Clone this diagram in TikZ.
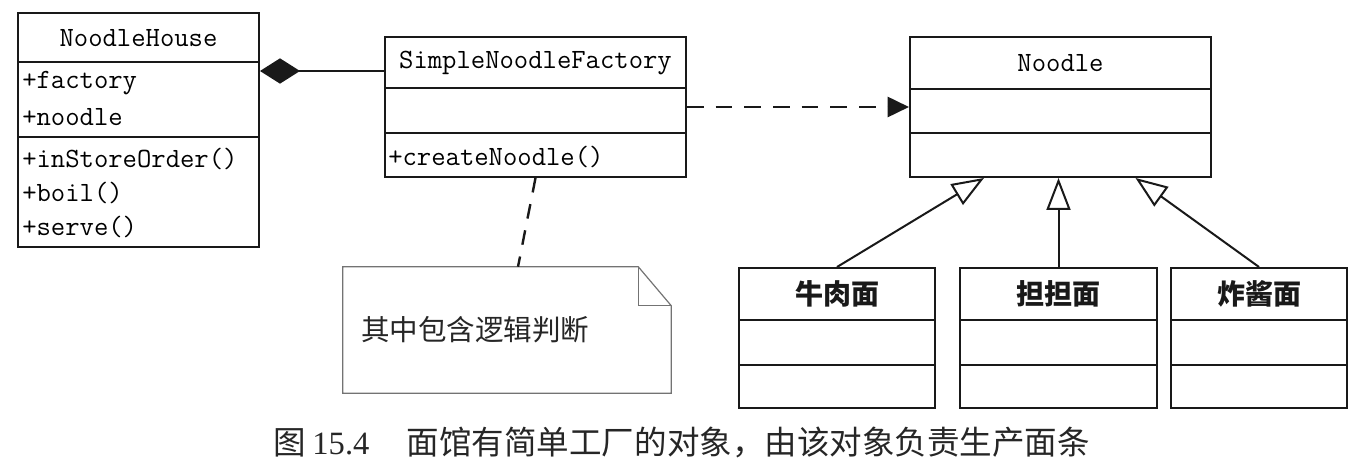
\documentclass[tikz,border=0pt]{standalone}
\usepackage{fontspec}
\newfontfamily\cjk{Noto Sans CJK SC}
\newfontfamily\capnum{Liberation Serif}
\usepackage{tikz}
\usetikzlibrary{positioning}
\usetikzlibrary{arrows.meta}

\tikzset{
  classbox/.style args={#1 by #2}{draw=black!90, line width=1.5pt, inner sep=0pt,
    minimum width=#1*0.75pt, minimum height=#2*0.75pt},
  divider/.style={draw=black!90, line width=1.5pt},
  mono/.style={inner sep=0pt, text=black, font=\fontsize{20.9}{25}\selectfont\ttfamily},
  cjkname/.style={inner sep=0pt, text=black!90, font=\cjk\bfseries\fontsize{21}{25}\selectfont},
  composition/.style={draw=black!90, line width=1.5pt, {Diamond[length=30pt, width=19pt]}-},
  depend/.style={draw=black!90, line width=2pt, dash pattern={on 12.5pt off 9pt}, -{Triangle[length=16pt, width=15pt]}},
  inherit/.style={draw=black!90, line width=1.5pt, -{Triangle[open, length=24pt, width=18pt]}},
  notelink/.style={draw=black!90, line width=1.8pt, dash pattern={on 11pt off 9pt}},
  notebox/.style={draw=black!55, line width=0.9pt}
}

\begin{document}
\begin{tikzpicture}[x=0.75pt,y=0.75pt,yscale=-1,xscale=1]
            \useasboundingbox (0,0) rectangle (1370,463);

            %Shape: Class NoodleHouse
            \node[classbox=241 by 234] (house) at (138.5,130) {};
            \draw[divider] (house.west |- 0,62) -- (house.east |- 0,62);
            \draw[divider] (house.west |- 0,137) -- (house.east |- 0,137);
            \node[mono] at (house.north |- 0,38) {NoodleHouse};
            \node[mono, anchor=west] at (22,83) {+factory};
            \node[mono, anchor=west] at (22,117) {+noodle};
            \node[mono, anchor=west] at (22,159) {+inStoreOrder()};
            \node[mono, anchor=west] at (22,193) {+boil()};
            \node[mono, anchor=west] at (22,227) {+serve()};

            %Shape: Class SimpleNoodleFactory
            \node[classbox=301 by 140] (factory) at (535.5,107) {};
            \draw[divider] (factory.west |- 0,88) -- (factory.east |- 0,88);
            \draw[divider] (factory.west |- 0,133) -- (factory.east |- 0,133);
            \node[mono] at (factory.north |- 0,63) {SimpleNoodleFactory};
            \node[mono, anchor=west] at (388,157) {+createNoodle()};

            %Shape: Class Noodle
            \node[classbox=301 by 140] (noodle) at (1060.5,107) {};
            \draw[divider] (noodle.west |- 0,89) -- (noodle.east |- 0,89);
            \draw[divider] (noodle.west |- 0,133) -- (noodle.east |- 0,133);
            \node[mono] at (noodle.north |- 0,63) {Noodle};

            %Shape: Subclasses
            \node[classbox=196 by 140] (beef) at (837,338) {};
            \node[classbox=197 by 140] (dandan) at (1058.5,338) {};
            \node[classbox=176 by 140] (zhajiang) at (1259,338) {};
            \foreach \cls in {beef,dandan,zhajiang}{
              \draw[divider] (\cls.west |- 0,320) -- (\cls.east |- 0,320);
              \draw[divider] (\cls.west |- 0,365) -- (\cls.east |- 0,365);
            }
            \node[cjkname] at (beef.north |- 0,294) {牛肉面};
            \node[cjkname] at (dandan.north |- 0,294) {担担面};
            \node[cjkname] at (zhajiang.north |- 0,294) {炸酱面};

            %Shape: Note
            \node[inner sep=0pt, minimum width=246pt, minimum height=94.5pt] (note) at (507,330) {};
            \draw[notebox] (note.south west) -- (note.north west) -- ([xshift=-24.75pt]note.north east)
              -- ([yshift=29.25pt]note.north east) -- (note.south east) -- cycle;
            \draw[notebox] ([xshift=-24.75pt]note.north east) |- ([yshift=29.25pt]note.north east);
            \node[inner sep=0pt, anchor=west, text=black!85, font=\cjk\fontsize{21.4}{25}\selectfont]
              (notetext) at ([xshift=13.5pt]note.west) {其中包含逻辑判断};

            %Straight Lines: connectors
            \coordinate (link) at ([yshift=-27pt]factory.west);
            \draw[composition] (house.east |- link) -- (link);
            \draw[depend] (factory.east) -- (noodle.west);
            \draw[notelink] (factory.south) -- ([xshift=8.25pt]note.north);
            \draw[inherit] (beef.north) -- ([xshift=-57.4pt]noodle.south);
            \draw[inherit] (dandan.north) -- (dandan.north |- noodle.south);
            \draw[inherit] (zhajiang.north) -- ([xshift=56.25pt]noodle.south);

            % Text Node: caption
            \node[anchor=west, inner sep=0pt, text=black!85, font=\fontsize{24.4}{28}\selectfont] (caption) at (273,442)
              {{\cjk 图}\hspace{5pt}{\capnum 15.4}\hspace{28pt}{\cjk 面馆有简单工厂的对象，由该对象负责生产面条}};

\end{tikzpicture}
\end{document}
